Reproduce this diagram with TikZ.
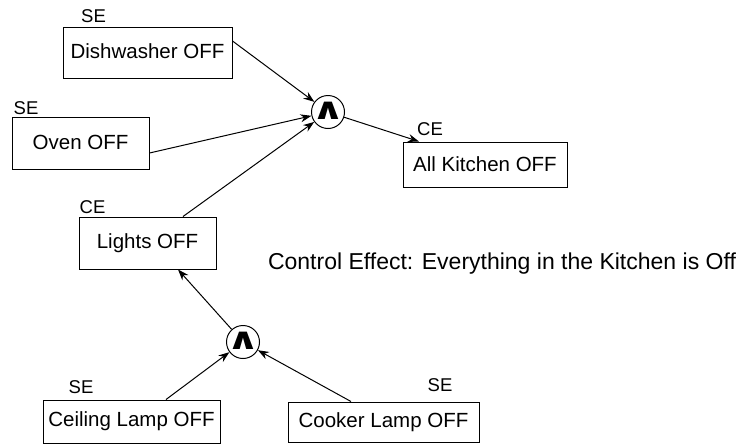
\documentclass[tikz,border=0pt]{standalone}
\usepackage{fontspec}
\usepackage{graphicx}
\setmainfont{Liberation Sans}
\newfontfamily\symfont{DejaVu Sans}
\usetikzlibrary{arrows.meta}
\newcommand{\andsym}{\raisebox{-7.5pt}[0pt][0pt]{\makebox[0pt]{\symfont\bfseries\fontsize{30}{30}\selectfont\scalebox{1.35}[1]{∧}}}}
\tikzset{
  boxnode/.style={draw, line width=1pt, rectangle, inner sep=0pt, font=\fontsize{20.5}{24}\selectfont},
  andnode/.style={draw, line width=1pt, circle, minimum size=33pt, inner sep=0pt},
  tagnode/.style={inner sep=0pt, font=\fontsize{18.5}{21}\selectfont},
  conn/.style={line width=1pt, -{Stealth[length=11pt,width=8pt]}},
}
\begin{document}
\begin{tikzpicture}[x=1pt,y=-1pt]
\useasboundingbox (0,0) rectangle (752,445);
% boxes
\node[boxnode, minimum width=169pt, minimum height=51pt] (dish) at (147.5,52.5) {\raisebox{2pt}{Dishwasher OFF}};
\node[boxnode, minimum width=137pt, minimum height=52pt] (oven) at (80.5,143) {\raisebox{2pt}{Oven OFF}};
\node[boxnode, minimum width=164pt, minimum height=45pt] (allk) at (485,164.5) {All Kitchen OFF};
\node[boxnode, minimum width=137pt, minimum height=52pt] (lights) at (147.5,243) {\raisebox{4pt}{Lights OFF}};
\node[boxnode, minimum width=177pt, minimum height=43pt] (ceil) at (131.5,421.5) {Ceiling Lamp OFF};
\node[boxnode, minimum width=191pt, minimum height=40pt] (cook) at (383.5,422) {Cooker Lamp OFF};
% and gates
\node[andnode] (and1) at (328,112) {\andsym};
\node[andnode] (and2) at (243,342) {\andsym};
% tags
\node[tagnode] (t1) at (93.5,16.5) {SE};
\node[tagnode] (t2) at (26,108) {SE};
\node[tagnode] (t3) at (430,129) {CE};
\node[tagnode] (t4) at (92.5,207.5) {CE};
\node[tagnode] (t5) at (81,387.5) {SE};
\node[tagnode] (t6) at (440,385) {SE};
% caption
\node[inner sep=0pt, font=\fontsize{23}{26}\selectfont] (cap) at (502,263.5) {Control Effect: Everything in the Kitchen is Off};
% connectors
\draw[conn] ([yshift=11.5pt]dish.east) -- (and1);
\draw[conn] ([yshift=-10pt]oven.east) -- (and1);
\draw[conn] ([xshift=35.5pt]lights.north) -- (and1);
\draw[conn] (and1) -- ([xshift=-66pt]allk.north);
\draw[conn] (and2) -- ([xshift=30.5pt]lights.south);
\draw[conn] ([xshift=34.5pt]ceil.north) -- (and2);
\draw[conn] ([xshift=-32.5pt]cook.north) -- (and2);
\end{tikzpicture}
\end{document}
